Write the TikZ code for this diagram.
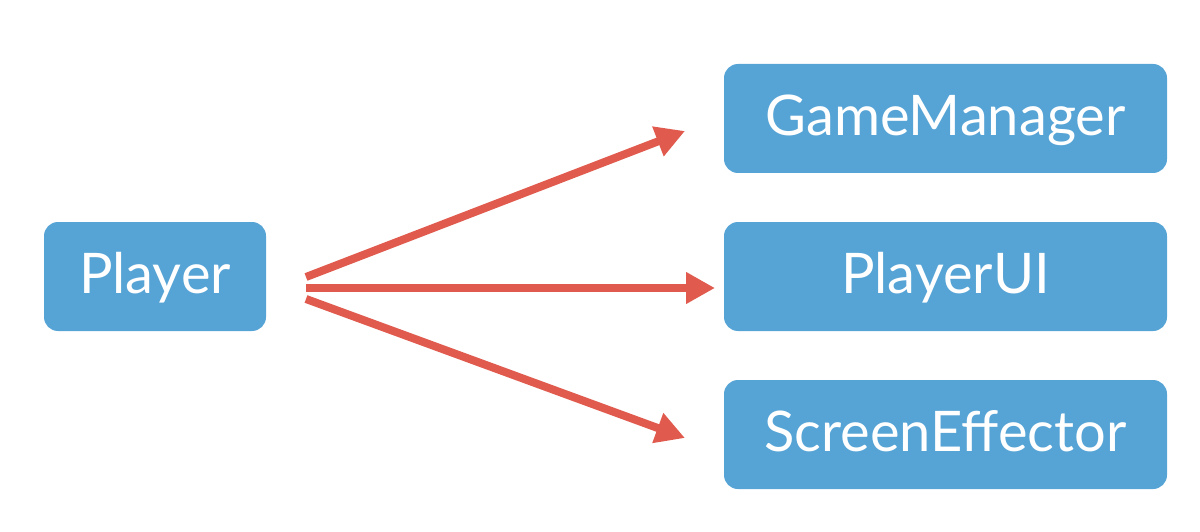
\documentclass[tikz,border=0pt]{standalone}
\usepackage{fontspec}
\setmainfont{Lato}
\usetikzlibrary{arrows.meta}
\definecolor{boxblue}{RGB}{86,164,214}
\definecolor{arrred}{RGB}{224,90,78}
\begin{document}
\begin{tikzpicture}[x=1pt,y=-1pt,
  cbox/.style={fill=boxblue, rounded corners=14pt, text=white, font=\fontsize{56}{66}\selectfont, inner sep=0pt, text height=34pt, text depth=0pt, anchor=center},
  link/.style={draw=arrred, line width=8pt, -{Triangle[length=29pt,width=30pt]}}]
\useasboundingbox (0,0) rectangle (1200,532);
\node[cbox, minimum width=222pt, minimum height=109pt] (player) at (155,276.5) {Player};
\node[cbox, minimum width=443pt, minimum height=109pt] (gm) at (945.5,118.5) {GameManager};
\node[cbox, minimum width=443pt, minimum height=109pt] (ui) at (945.5,276.5) {PlayerUI};
\node[cbox, minimum width=443pt, minimum height=109pt] (se) at (945.5,434.5) {ScreenEffector};
\coordinate (s1) at (306,277);
\coordinate (s2) at (306,288);
\coordinate (s3) at (306,299);
\coordinate (t1) at (685,131);
\coordinate (t2) at (715,288);
\coordinate (t3) at (685,438);
\draw[link] (s1) -- (t1);
\draw[link] (s2) -- (t2);
\draw[link] (s3) -- (t3);
\end{tikzpicture}
\end{document}
